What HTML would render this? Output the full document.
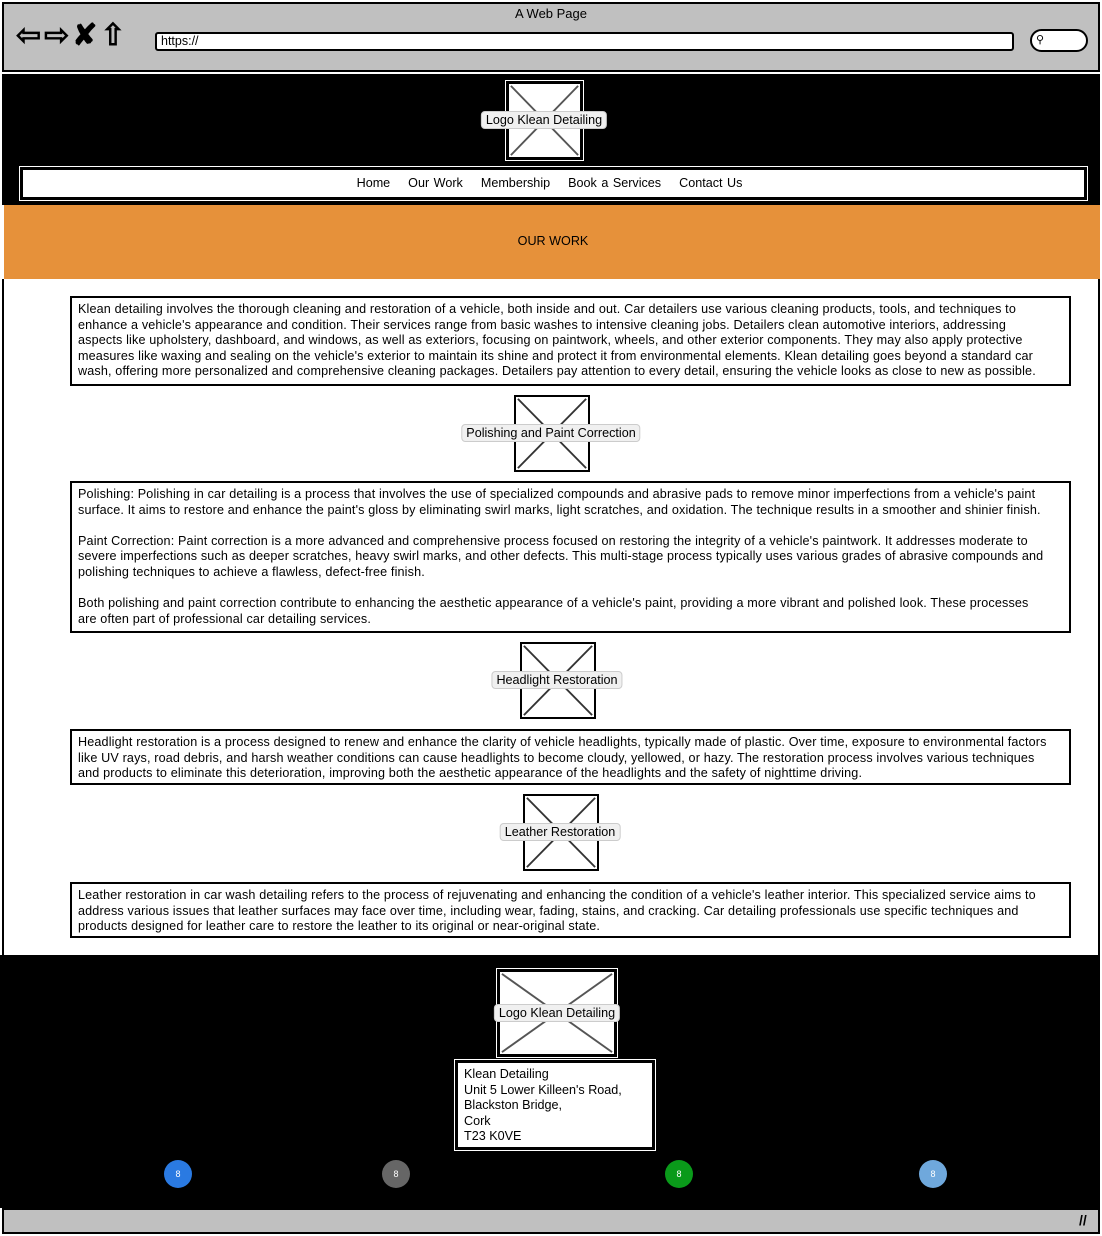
<!DOCTYPE html>
<html><head><meta charset="utf-8"><style>
*{margin:0;padding:0;box-sizing:border-box}
body{width:1102px;height:1236px;position:relative;background:#fff;font-family:"Liberation Sans",sans-serif;color:#000;overflow:hidden}
.a{position:absolute}
.tb{position:absolute;left:70px;width:1001px;border:2px solid #000;background:#fff;font-size:12.6px;line-height:15.6px;padding:4px 0 0 6px;white-space:nowrap;letter-spacing:0.15px}
.img{position:absolute;border:2px solid #000;background:#fff}
.img svg{position:absolute;left:0;top:0;width:100%;height:100%}
.lbl{position:absolute;background:#f0f0f0;border:1px solid #ccc;border-radius:4px;font-size:12.6px;padding:1px 4px;white-space:nowrap;transform:translate(-50%,-50%)}
.dot{position:absolute;width:28px;height:28px;border-radius:50%;color:#fff;font-size:9px;text-align:center;line-height:28px}
</style></head><body>
<div class="a" style="left:2px;top:2px;width:1098px;height:70px;background:#c0c0c0;border:2px solid #000"></div>
<div class="a" style="left:0;top:6px;width:1102px;text-align:center;font-size:13px">A Web Page</div>
<div class="a" style="left:16px;top:20px;font-size:30px;line-height:32px;font-weight:bold;letter-spacing:3px">⇦⇨✘⇧</div>
<div class="a" style="left:155px;top:32px;width:859px;height:19px;background:#fff;border:2px solid #000;border-radius:3px;font-size:12.5px;padding-left:4px;line-height:15px">https://</div>
<div class="a" style="left:1030px;top:29px;width:58px;height:23px;background:#fff;border:2px solid #000;border-radius:12px;font-size:11px;padding-left:4px;line-height:19px">&#9906;</div>
<div class="a" style="left:2px;top:74px;width:1098px;height:131px;background:#000"></div>
<div class="a" style="left:505px;top:80px;width:79px;height:81px;border:1px solid #fff"></div>
<div class="img" style="left:507px;top:82px;width:75px;height:77px"><svg viewBox="0 0 75 77" preserveAspectRatio="none"><line x1="2" y1="2" x2="73" y2="75" stroke="#555" stroke-width="2"/><line x1="73" y1="2" x2="2" y2="75" stroke="#555" stroke-width="2"/></svg></div>
<div class="lbl" style="left:544px;top:120px">Logo Klean Detailing</div>
<div class="a" style="left:19px;top:166px;width:1069px;height:35px;border:1px solid #fff"></div>
<div class="a" style="left:21px;top:168px;width:1065px;height:31px;background:#fff;border:2px solid #000;font-size:12.6px;line-height:27px;text-align:center;word-spacing:1px;padding-right:8px">Home &nbsp;&nbsp; Our Work &nbsp;&nbsp; Membership &nbsp;&nbsp; Book a Services &nbsp;&nbsp; Contact Us</div>
<div class="a" style="left:4px;top:205px;width:1096px;height:74px;background:#e6913a"></div>
<div class="a" style="left:0;top:234px;width:1106px;text-align:center;font-size:12.6px">OUR WORK</div>
<div class="a" style="left:2px;top:279px;width:2px;height:676px;background:#000"></div>
<div class="a" style="left:1098px;top:279px;width:2px;height:676px;background:#000"></div>

<div class="tb" style="top:296px;height:90px">Klean detailing involves the thorough cleaning and restoration of a vehicle, both inside and out. Car detailers use various cleaning products, tools, and techniques to<br>enhance a vehicle's appearance and condition. Their services range from basic washes to intensive cleaning jobs. Detailers clean automotive interiors, addressing<br>aspects like upholstery, dashboard, and windows, as well as exteriors, focusing on paintwork, wheels, and other exterior components. They may also apply protective<br>measures like waxing and sealing on the vehicle's exterior to maintain its shine and protect it from environmental elements. Klean detailing goes beyond a standard car<br>wash, offering more personalized and comprehensive cleaning packages. Detailers pay attention to every detail, ensuring the vehicle looks as close to new as possible.</div>

<div class="img" style="left:514px;top:395px;width:76px;height:77px"><svg viewBox="0 0 76 77" preserveAspectRatio="none"><line x1="2" y1="2" x2="74" y2="75" stroke="#333" stroke-width="2"/><line x1="74" y1="2" x2="2" y2="75" stroke="#333" stroke-width="2"/></svg></div>
<div class="lbl" style="left:551px;top:433px">Polishing and Paint Correction</div>

<div class="tb" style="top:481px;height:152px">Polishing: Polishing in car detailing is a process that involves the use of specialized compounds and abrasive pads to remove minor imperfections from a vehicle's paint<br>surface. It aims to restore and enhance the paint's gloss by eliminating swirl marks, light scratches, and oxidation. The technique results in a smoother and shinier finish.<br><br>Paint Correction: Paint correction is a more advanced and comprehensive process focused on restoring the integrity of a vehicle's paintwork. It addresses moderate to<br>severe imperfections such as deeper scratches, heavy swirl marks, and other defects. This multi-stage process typically uses various grades of abrasive compounds and<br>polishing techniques to achieve a flawless, defect-free finish.<br><br>Both polishing and paint correction contribute to enhancing the aesthetic appearance of a vehicle's paint, providing a more vibrant and polished look. These processes<br>are often part of professional car detailing services.</div>

<div class="img" style="left:520px;top:642px;width:76px;height:77px"><svg viewBox="0 0 76 77" preserveAspectRatio="none"><line x1="2" y1="2" x2="74" y2="75" stroke="#333" stroke-width="2"/><line x1="74" y1="2" x2="2" y2="75" stroke="#333" stroke-width="2"/></svg></div>
<div class="lbl" style="left:557px;top:680px">Headlight Restoration</div>

<div class="tb" style="top:729px;height:56px">Headlight restoration is a process designed to renew and enhance the clarity of vehicle headlights, typically made of plastic. Over time, exposure to environmental factors<br>like UV rays, road debris, and harsh weather conditions can cause headlights to become cloudy, yellowed, or hazy. The restoration process involves various techniques<br>and products to eliminate this deterioration, improving both the aesthetic appearance of the headlights and the safety of nighttime driving.</div>

<div class="img" style="left:523px;top:794px;width:76px;height:77px"><svg viewBox="0 0 76 77" preserveAspectRatio="none"><line x1="2" y1="2" x2="74" y2="75" stroke="#333" stroke-width="2"/><line x1="74" y1="2" x2="2" y2="75" stroke="#333" stroke-width="2"/></svg></div>
<div class="lbl" style="left:560px;top:832px">Leather Restoration</div>

<div class="tb" style="top:882px;height:56px">Leather restoration in car wash detailing refers to the process of rejuvenating and enhancing the condition of a vehicle's leather interior. This specialized service aims to<br>address various issues that leather surfaces may face over time, including wear, fading, stains, and cracking. Car detailing professionals use specific techniques and<br>products designed for leather care to restore the leather to its original or near-original state.</div>

<div class="a" style="left:0;top:955px;width:1100px;height:253px;background:#000"></div>
<div class="a" style="left:496px;top:968px;width:122px;height:90px;border:1px solid #fff"></div>
<div class="img" style="left:498px;top:970px;width:118px;height:86px"><svg viewBox="0 0 118 86" preserveAspectRatio="none"><line x1="2" y1="2" x2="116" y2="84" stroke="#555" stroke-width="2"/><line x1="116" y1="2" x2="2" y2="84" stroke="#555" stroke-width="2"/></svg></div>
<div class="lbl" style="left:557px;top:1013px">Logo Klean Detailing</div>
<div class="a" style="left:454px;top:1059px;width:202px;height:92px;border:1px solid #fff"></div>
<div class="a" style="left:456px;top:1061px;width:198px;height:88px;background:#fff;border:2px solid #000;font-size:12.6px;line-height:15.6px;padding:4px 0 0 6px;white-space:nowrap">Klean Detailing<br>Unit 5 Lower Killeen's Road,<br>Blackston Bridge,<br>Cork<br>T23 K0VE</div>
<div class="dot" style="left:164px;top:1160px;background:#2a7ae2">8</div>
<div class="dot" style="left:382px;top:1160px;background:#666">8</div>
<div class="dot" style="left:665px;top:1160px;background:#0a9a1a">8</div>
<div class="dot" style="left:919px;top:1160px;background:#6fa8dc">8</div>
<div class="a" style="left:2px;top:1208px;width:1098px;height:26px;background:#c0c0c0;border:2px solid #000"></div>
<div class="a" style="left:1079px;top:1212px;font-size:14px;font-weight:bold">//</div>
</body></html>
